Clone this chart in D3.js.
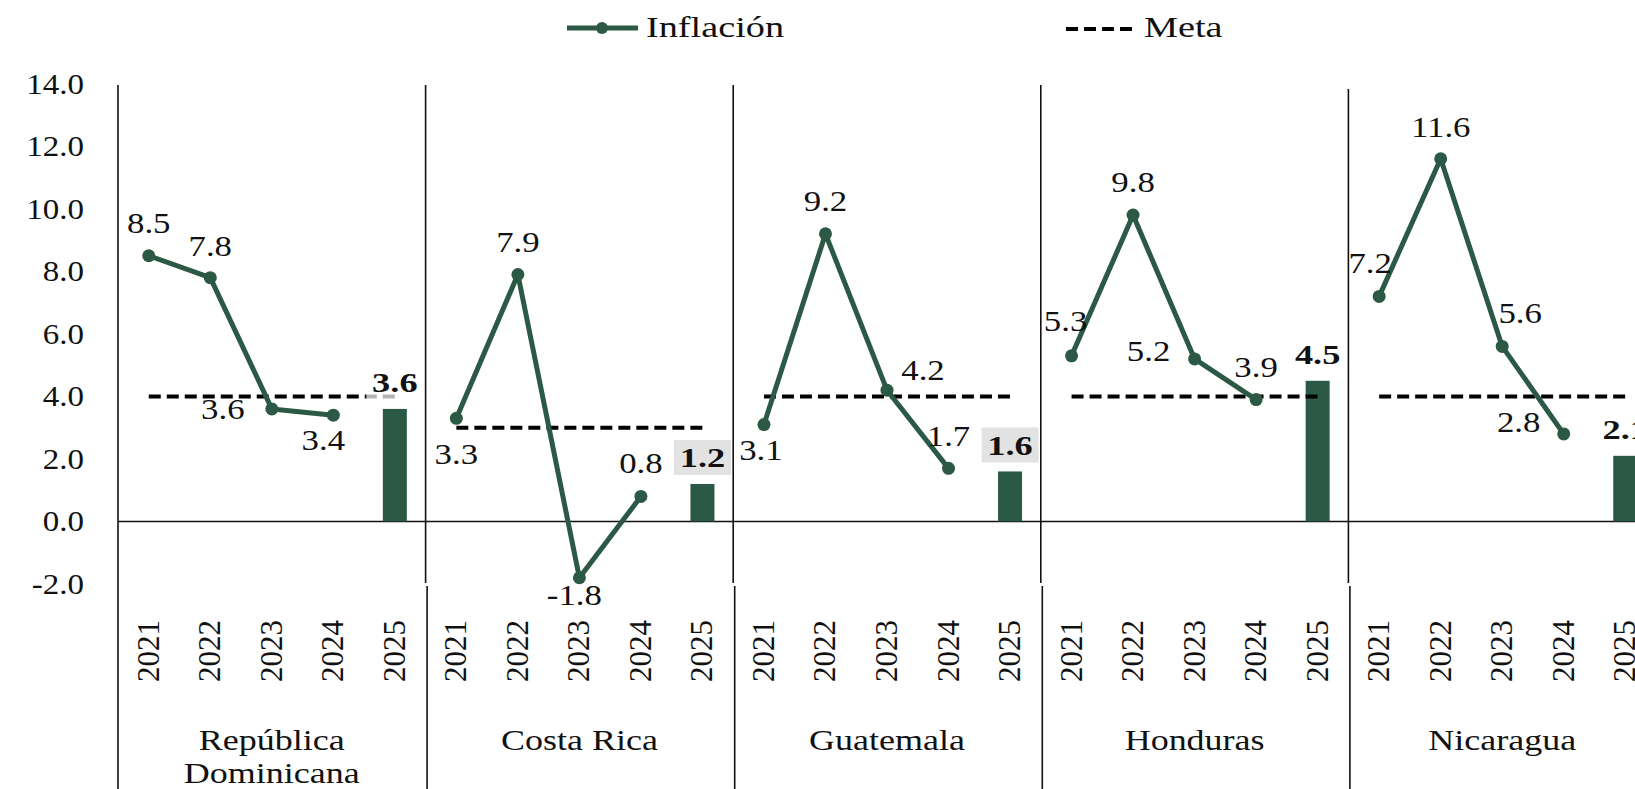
<!DOCTYPE html>
<html>
<head>
<meta charset="utf-8">
<script src="https://cdn.jsdelivr.net/npm/d3@7"></script>
<style>
  html, body { margin: 0; padding: 0; background: #fff; overflow: hidden; }
  svg { display: block; }
  text { font-family: "Liberation Serif", "DejaVu Serif", serif; fill: #111; }
</style>
</head>
<body>
<svg id="chart" width="1635" height="789"></svg>
<script>
// ---------------- DATA ----------------
const countries = ["República Dominicana", "Costa Rica", "Guatemala", "Honduras", "Nicaragua"];
const countryLines = [["República", "Dominicana"], ["Costa Rica"], ["Guatemala"], ["Honduras"], ["Nicaragua"]];
const years = ["2021", "2022", "2023", "2024", "2025"];
const lineYears = ["2021", "2022", "2023", "2024"];
// observed inflation 2021-2024 (line)
const inflation = [
  [8.5, 7.8, 3.6, 3.4],
  [3.3, 7.9, -1.8, 0.8],
  [3.1, 9.2, 4.2, 1.7],
  [5.3, 9.8, 5.2, 3.9],
  [7.2, 11.6, 5.6, 2.8]
];
// 2025 value (bar)
const value2025 = [3.6, 1.2, 1.6, 4.5, 2.1];
// inflation target (meta)
const meta = [4.0, 3.0, 4.0, 4.0, 4.0];
const yTicks = [-2, 0, 2, 4, 6, 8, 10, 12, 14];

// ---------------- LAYOUT / STYLE ----------------
const labelOffsets = [
  [[0, -32], [0, -31], [-49, 0], [-10, 25]],
  [[0, 36], [0, -32], [-5, 18], [0, -33]],
  [[-3, 26], [0, -32], [36, -20], [0, -32]],
  [[-6, -34], [0, -33], [-46, -8], [0, -32]],
  [[-9, -33], [0, -31], [18, -33], [-45, -12]]
];
const barLabelBg = ["rgba(255,255,255,0.7)", "#e2e2e2", "#e2e2e2", "none", "none"];
const green = "#2b5946";

const fmt = d3.formatLocale({ decimal: ".", thousands: ",", grouping: [3], currency: ["", ""], minus: "-" }).format(".1f");

const svg = d3.select("#chart");
const W = 1635, H = 789;
const x0 = 118, panelW = 307.6;

const xCountry = d3.scaleBand().domain(countries).range([x0, x0 + panelW * countries.length]).padding(0);
const xYear = d3.scaleBand().domain(years).range([0, panelW]).padding(0);
const y = d3.scaleLinear().domain([-2, 14]).range([584, 83.8]);

function stretched(sel, x, yy, sx) {
  return sel.attr("transform", `translate(${x},${yy}) scale(${sx},1)`);
}

// ---------- Y axis labels (no ticks) ----------
const yAxisG = svg.append("g");
yAxisG.selectAll("text").data(yTicks).join("text")
  .each(function (d) {
    stretched(d3.select(this), 84, y(d) + 10, 1.1);
  })
  .attr("text-anchor", "end")
  .attr("font-size", 30)
  .text(d => fmt(d));

// ---------- zero line ----------
svg.append("line")
  .attr("x1", x0).attr("x2", W)
  .attr("y1", y(0)).attr("y2", y(0))
  .attr("stroke", "#111").attr("stroke-width", 1.6);

// ---------- dividers ----------
const dividerG = svg.append("g").attr("stroke", "#111").attr("stroke-width", 1.6);
countries.forEach((c, i) => {
  const xl = xCountry(c);
  if (i === 0) {
    dividerG.append("line").attr("x1", xl).attr("x2", xl).attr("y1", 85).attr("y2", H);
  } else {
    dividerG.append("line").attr("x1", xl).attr("x2", xl).attr("y1", i === 4 ? 89 : 85).attr("y2", 583);
    dividerG.append("line").attr("x1", xl + 1.5).attr("x2", xl + 1.5).attr("y1", 586).attr("y2", H);
  }
});

// ---------- panels ----------
countries.forEach((c, i) => {
  const g = svg.append("g").attr("transform", `translate(${xCountry(c)},0)`);
  const cx = yr => xYear(yr) + xYear.bandwidth() / 2;

  // bar 2025
  const bw = 24;
  g.append("rect")
    .attr("x", cx("2025") - bw / 2)
    .attr("y", y(value2025[i]))
    .attr("width", bw)
    .attr("height", y(0) - y(value2025[i]))
    .attr("fill", green);

  // meta dashed line
  g.append("line")
    .attr("x1", cx("2021")).attr("x2", cx("2025"))
    .attr("y1", y(meta[i])).attr("y2", y(meta[i]))
    .attr("stroke", "#000").attr("stroke-width", 4)
    .attr("stroke-dasharray", "12,6");

  // inflation line
  const pts = lineYears.map((yr, j) => [cx(yr), y(inflation[i][j])]);
  g.append("path")
    .attr("d", d3.line()(pts))
    .attr("fill", "none").attr("stroke", green).attr("stroke-width", 5)
    .attr("stroke-linejoin", "round");
  g.selectAll("circle.pt").data(pts).join("circle")
    .attr("class", "pt")
    .attr("cx", d => d[0]).attr("cy", d => d[1]).attr("r", 6.5)
    .attr("fill", green);

  // data labels
  lineYears.forEach((yr, j) => {
    const [ox, oy] = labelOffsets[i][j];
    const t = g.append("text")
      .attr("text-anchor", "middle")
      .attr("font-size", 29)
      .text(fmt(inflation[i][j]));
    stretched(t, cx(yr) + ox, y(inflation[i][j]) + oy + 9.6, 1.2);
  });

  // bar label
  const lc = y(value2025[i]) - 26;
  if (barLabelBg[i] !== "none") {
    g.append("rect")
      .attr("x", cx("2025") - 28.5).attr("y", lc - 18)
      .attr("width", 57).attr("height", 35)
      .attr("fill", barLabelBg[i]);
  }
  const bt = g.append("text")
    .attr("text-anchor", "middle")
    .attr("font-size", 28)
    .attr("font-weight", "bold")
    .text(fmt(value2025[i]));
  stretched(bt, cx("2025"), lc + 9.3, 1.3);

  // year labels rotated
  years.forEach(yr => {
    g.append("text")
      .attr("transform", `translate(${cx(yr) + 10},651) rotate(-90)`)
      .attr("text-anchor", "middle")
      .attr("font-size", 31)
      .text(yr);
  });

  // country label
  countryLines[i].forEach((ln, k) => {
    const t = g.append("text")
      .attr("text-anchor", "middle")
      .attr("font-size", 30)
      .text(ln);
    stretched(t, panelW / 2, 750 + k * 33, 1.2);
  });
});

// ---------- legend ----------
const lg = svg.append("g");
lg.append("line").attr("x1", 567).attr("x2", 638).attr("y1", 28).attr("y2", 28)
  .attr("stroke", green).attr("stroke-width", 5);
lg.append("circle").attr("cx", 602).attr("cy", 28).attr("r", 6).attr("fill", green);
stretched(lg.append("text").attr("font-size", 29).text("Inflación"), 646, 37, 1.32);

lg.append("line").attr("x1", 1066).attr("x2", 1136).attr("y1", 29).attr("y2", 29)
  .attr("stroke", "#000").attr("stroke-width", 4).attr("stroke-dasharray", "12,6");
stretched(lg.append("text").attr("font-size", 29).text("Meta"), 1144, 37, 1.32);
</script>
</body>
</html>
